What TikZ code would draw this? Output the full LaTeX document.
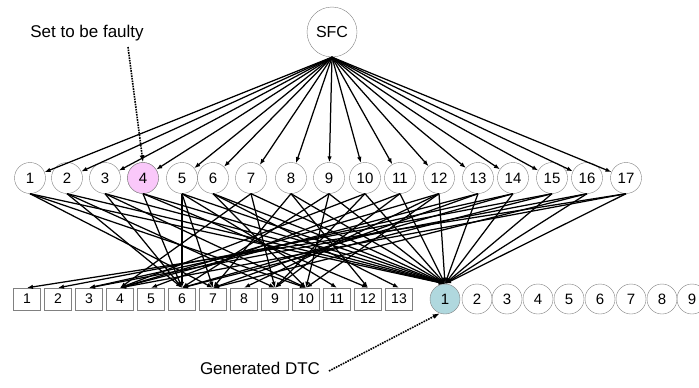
\documentclass[tikz,border=0pt]{standalone}
\usepackage{fontspec}
\setmainfont{Liberation Sans}
\usetikzlibrary{arrows.meta}
\definecolor{faultpink}{RGB}{250,200,250}
\definecolor{dtcblue}{RGB}{176,216,222}
\tikzset{
  tst/.style={circle,draw=gray,minimum size=31pt,inner sep=0pt,font=\fontsize{15}{18}\selectfont},
  blk/.style={draw=gray,minimum width=27pt,minimum height=22pt,inner sep=0pt,font=\fontsize{14}{17}\selectfont},
  arr/.style={line width=1.25pt,-{Latex[length=6pt,width=4.5pt]}},
  hint/.style={line width=1.6pt,densely dotted,-{Latex[length=7pt,width=5pt]}}
}
\begin{document}
\begin{tikzpicture}[x=1pt,y=-1pt]
\useasboundingbox (0,0) rectangle (699,388);
\node[tst,minimum size=50pt,font=\fontsize{16}{19}\selectfont] (sfc) at (332,32) {SFC};
\foreach \i/\x in {1/30,2/67,3/105,4/143,5/182,6/213,7/251,8/291,9/329,10/365,11/400,12/439,13/478,14/513,15/552,16/587,17/626}
  \node[tst] (m\i) at (\x,178) {\i};
\node[tst,fill=faultpink] (m4) at (143,178) {4};
\foreach \i in {1,...,13} \node[blk] (s\i) at ({27+31*(\i-1)},299) {\i};
\node[tst,minimum size=30pt,fill=dtcblue] (d1) at (445,299) {1};
\foreach \i/\x in {2/477,3/507,4/538,5/569,6/600,7/631,8/662,9/692}
  \node[tst,minimum size=30pt] (d\i) at (\x,299) {\i};
\foreach \i in {1,...,17} \draw[arr] (sfc.south) -- (m\i);
\foreach \i in {1,...,17} \draw[arr] (m\i.south) -- (d1.north);
\foreach \i/\j in {1/7,1/10,2/6,2/9,3/6,3/10,4/6,4/12,5/6,5/7,5/11,6/10,6/13,7/4,7/9,8/7,8/12,9/6,9/10,10/4,10/9,11/5,11/9,12/4,12/10,13/4,13/7,14/3,14/6,15/2,15/6,16/3,16/7,17/1,17/4,12/8}
  \draw[arr] (m\i.south) -- (s\j.north);
\node[font=\fontsize{17}{20}\selectfont] (faulty) at (87,33) {Set to be faulty};
\coordinate (fs) at (128,47);
\draw[hint] (fs) -- (m4.north);
\node[font=\fontsize{17}{20}\selectfont] (gen) at (260,368) {Generated DTC};
\coordinate (gs) at (329,371);
\draw[hint] (gs) -- (d1.250);
\end{tikzpicture}
\end{document}
